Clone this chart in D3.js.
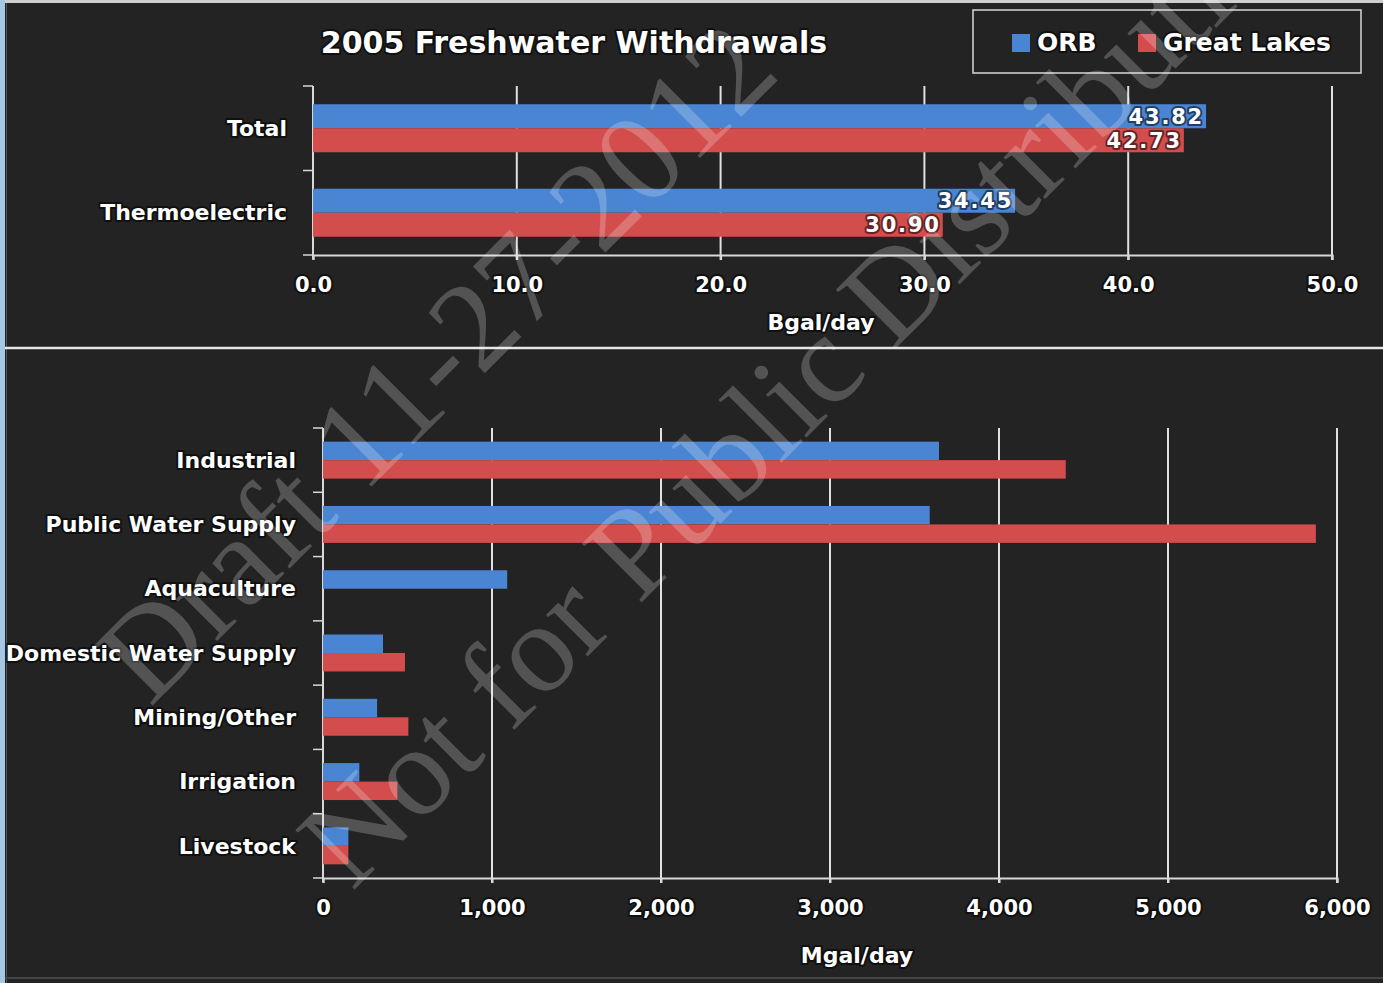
<!DOCTYPE html>
<html>
<head>
<meta charset="utf-8">
<script src="https://cdn.jsdelivr.net/npm/d3@7"></script>
<style>
  body { margin: 0; background: #232323; }
  text { font-family: "DejaVu Sans", Verdana, sans-serif; font-weight: bold; fill: #fff; }
  .glow { stroke: #000; stroke-width: 4px; stroke-opacity: 0.55; paint-order: stroke; stroke-linejoin: round; }
</style>
</head>
<body>
<div id="chart"></div>
<script>
/* global d3 */

// the data
const topCats = ['Total', 'Thermoelectric']
const topORB = [43.82, 34.45]
const topGL = [42.73, 30.90]
const topTicks = [0, 10, 20, 30, 40, 50]

const botCats = ['Industrial', 'Public Water Supply', 'Aquaculture', 'Domestic Water Supply', 'Mining/Other', 'Irrigation', 'Livestock']
const botORB = [3645, 3590, 1090, 355, 320, 215, 150]
const botGL = [4395, 5875, 0, 485, 505, 440, 150]
const botTicks = [0, 1000, 2000, 3000, 4000, 5000, 6000]

const seriesNames = ['ORB', 'Great Lakes']
const colors = ['#4a85d3', '#d34d4d']

// Our canvas
const width = 1383,
height = 983

let svg = d3.select('#chart')
  .append('svg')
  .attr('width', width)
  .attr('height', height)

// frame
svg.append('rect').attr('x', 0).attr('y', 0).attr('width', width).attr('height', height).attr('fill', '#232323')
svg.append('rect').attr('x', 0).attr('y', 0).attr('width', 5).attr('height', height).attr('fill', '#a7c8e4')
svg.append('line').attr('x1', 5).attr('x2', width).attr('y1', 1.5).attr('y2', 1.5).attr('stroke', '#cfcfcf').attr('stroke-width', 3)
svg.append('line').attr('x1', 6.5).attr('x2', 6.5).attr('y1', 3).attr('y2', height).attr('stroke', '#555').attr('stroke-width', 1)
svg.append('line').attr('x1', 5).attr('x2', width).attr('y1', 348).attr('y2', 348).attr('stroke', '#e6e6e6').attr('stroke-width', 2.5)
svg.append('line').attr('x1', 5).attr('x2', width).attr('y1', 978).attr('y2', 978).attr('stroke', '#444').attr('stroke-width', 2)

// draw one panel of grouped horizontal bars
let drawPanel = (cfg) => {
  const x = d3.scaleLinear()
    .domain([cfg.ticks[0], cfg.ticks[cfg.ticks.length - 1]])
    .range([cfg.left, cfg.right])

  const y = d3.scaleBand()
    .domain(cfg.cats)
    .range([cfg.top, cfg.bottom])

  const inner = d3.scaleBand()
    .domain([0, 1])
    .range([0, y.bandwidth()])
    .paddingOuter(cfg.outer)

  const g = svg.append('g')

  // gridlines
  g.selectAll('.grid')
    .data(cfg.ticks.slice(1))
    .enter()
    .append('line')
    .attr('x1', d => x(d)).attr('x2', d => x(d))
    .attr('y1', cfg.top).attr('y2', cfg.bottom + 5)
    .attr('stroke', '#e0e0e0')
    .attr('stroke-width', 2)

  // x axis
  const xAxis = d3.axisBottom(x)
    .tickValues(cfg.ticks)
    .tickFormat(cfg.fmt)
    .tickSize(5)
    .tickPadding(cfg.pad)
  const xg = g.append('g')
    .attr('transform', `translate(0,${cfg.bottom})`)
    .call(xAxis)
  xg.select('.domain').attr('stroke', '#d8d8d8').attr('stroke-width', 2)
  xg.selectAll('.tick line').attr('stroke', '#d8d8d8').attr('stroke-width', 2)
  xg.selectAll('.tick text')
    .attr('class', 'glow')
    .style('font-size', cfg.tickSize + 'px')
    .style('font-family', '"DejaVu Sans", sans-serif')
    .style('font-weight', 'bold')
    .attr('fill', '#fff')

  // y axis (category boundaries)
  const yg = g.append('g')
  yg.append('line')
    .attr('x1', cfg.left).attr('x2', cfg.left)
    .attr('y1', cfg.top).attr('y2', cfg.bottom + 4)
    .attr('stroke', '#d8d8d8').attr('stroke-width', 2)
  yg.selectAll('.ytick')
    .data(cfg.cats.map(c => y(c)).concat([cfg.bottom]))
    .enter()
    .append('line')
    .attr('x1', cfg.left - 10).attr('x2', cfg.left)
    .attr('y1', d => d).attr('y2', d => d)
    .attr('stroke', '#d8d8d8').attr('stroke-width', 1.5)
  yg.selectAll('.ylab')
    .data(cfg.cats)
    .enter()
    .append('text')
    .attr('class', 'glow')
    .attr('x', cfg.labelX)
    .attr('y', d => y(d) + y.bandwidth() / 2)
    .attr('dy', '0.35em')
    .attr('text-anchor', 'end')
    .style('font-size', cfg.catSize + 'px')
    .text(d => d)

  // bars
  const series = [cfg.orb, cfg.gl]
  series.forEach((vals, si) => {
    g.selectAll('.bar' + si)
      .data(vals)
      .enter()
      .append('rect')
      .attr('fill', colors[si])
      .attr('x', x(0))
      .attr('y', (d, i) => y(cfg.cats[i]) + inner(si))
      .attr('width', d => x(d) - x(0))
      .attr('height', inner.bandwidth())
  })

  // value labels
  if (cfg.labels) {
    series.forEach((vals, si) => {
      g.selectAll('.val' + si)
        .data(vals)
        .enter()
        .append('text')
        .attr('class', 'glow')
        .attr('x', d => x(d) - 2)
        .attr('y', (d, i) => y(cfg.cats[i]) + inner(si) + inner.bandwidth() / 2)
        .attr('dy', '0.36em')
        .attr('text-anchor', 'end')
        .style('font-size', '21px')
        .style('letter-spacing', '1.8px')
        .text(d => d.toFixed(2))
    })
  }

  // axis title
  g.append('text')
    .attr('class', 'glow')
    .attr('x', cfg.titleX)
    .attr('y', cfg.titleY)
    .attr('text-anchor', 'middle')
    .style('font-size', '22px')
    .text(cfg.unit)
}

drawPanel({
  cats: topCats, orb: topORB, gl: topGL, ticks: topTicks,
  fmt: d3.format('.1f'),
  left: 313, right: 1332, top: 86, bottom: 255,
  outer: 0.76, pad: 17, tickSize: 21, catSize: 22, labelX: 287,
  labels: true, unit: 'Bgal/day', titleX: 821, titleY: 330
})

drawPanel({
  cats: botCats, orb: botORB, gl: botGL, ticks: botTicks,
  fmt: d3.format(','),
  left: 323, right: 1337, top: 428, bottom: 878,
  outer: 0.74, pad: 17, tickSize: 21, catSize: 22, labelX: 296,
  labels: false, unit: 'Mgal/day', titleX: 857, titleY: 963
})

// title
svg.append('text')
  .attr('class', 'glow')
  .attr('x', 574)
  .attr('y', 53)
  .attr('text-anchor', 'middle')
  .style('font-size', '30px')
  .text('2005 Freshwater Withdrawals')

// legend
const leg = svg.append('g')
leg.append('rect')
  .attr('x', 973).attr('y', 10).attr('width', 388).attr('height', 63)
  .attr('fill', 'none').attr('stroke', '#d8d8d8').attr('stroke-width', 1.5)
const legX = [1012, 1138]
seriesNames.forEach((n, i) => {
  leg.append('rect')
    .attr('x', legX[i]).attr('y', 34).attr('width', 18).attr('height', 18)
    .attr('fill', colors[i])
  leg.append('text')
    .attr('class', 'glow')
    .attr('x', legX[i] + 25).attr('y', 51)
    .style('font-size', '25px')
    .text(n)
})

// watermark
const wm = svg.append('g').attr('pointer-events', 'none')
const wmText = [
  { t: 'Draft 11-27-2012', x: 150, y: 708 },
  { t: 'Not for Public Distribution', x: 352, y: 892 }
]
wmText.forEach(w => {
  wm.append('text')
    .attr('transform', `translate(${w.x},${w.y}) rotate(-45)`)
    .style('font-family', '"Liberation Serif", "DejaVu Serif", serif')
    .style('font-weight', 'normal')
    .style('font-size', '128px')
    .attr('fill', '#b0b0b0')
    .attr('fill-opacity', 0.22)
    .text(w.t)
})
</script>
</body>
</html>
